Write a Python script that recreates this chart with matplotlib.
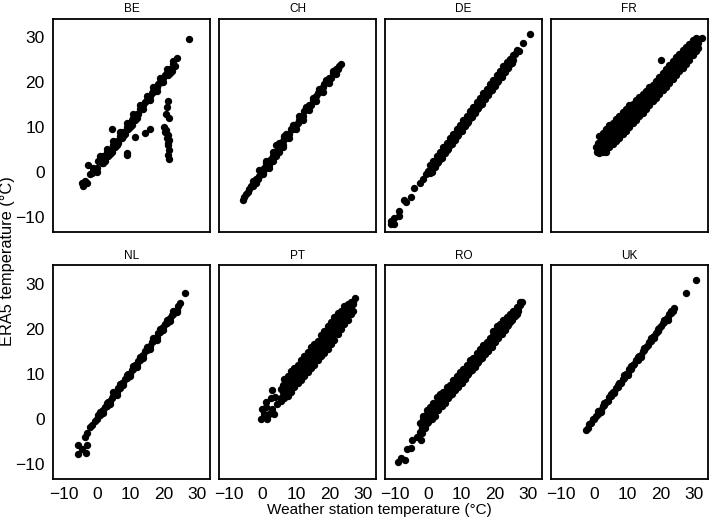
import matplotlib
matplotlib.use('Agg')
import matplotlib.pyplot as plt


# Panels, in the order they appear (top row then bottom row)
countries = ['BE', 'CH', 'DE', 'FR', 'NL', 'PT', 'RO', 'UK']
tick_values = [-10, 0, 10, 20, 30]

# (weather station temperature, ERA5 temperature) pairs
BE_points = [(-4.5, -2.5), (-4, -3), (-3.5, -2), (-3, -2.5), (-2.5, 1.5),
             (-2, -0.5), (-1.5, -0.2), (-1, 0.3), (0, 0.8), (0.5, 2.5),
             (1, 3), (1.5, 2), (2, 3.5), (2.5, 2.5), (3, 4.5), (3.5, 3.5),
             (4, 5), (4.5, 4.5), (5, 6), (5.5, 5.5), (6, 7), (6.5, 6.5),
             (7, 8), (7.5, 7.5), (8, 9), (8.5, 8.5), (9, 10), (9.5, 9.5),
             (10, 11), (10.5, 11.5), (10.5, 10.5), (11, 12), (11.5, 11.5),
             (12, 13), (12.5, 12.8), (13, 14), (13.5, 14), (14, 15),
             (14.5, 15.5), (15, 16), (15.5, 16), (16, 17), (16.5, 17.5),
             (17, 18), (17.5, 18), (18, 19), (18.5, 19.5), (19, 20),
             (19.5, 20), (20, 21), (20.5, 21.5), (21, 22), (21.5, 21.5),
             (22, 23), (22.5, 22.5), (23, 24), (23.5, 23.5), (24, 25.3),
             (-1, 1), (1, 3.5), (3, 5.2), (5, 6.8), (7, 8.8), (9, 10.8),
             (11, 12.8), (13, 14.8), (15, 16.8), (17, 18.8), (19, 20.8),
             (21, 22.8), (23, 24.6),
             (0, 0), (2, 2), (4, 4), (6, 6), (8, 8), (10, 10), (12, 12),
             (14, 14), (16, 16), (18, 18), (20, 20), (22, 22),
             (4.5, 9.5), (9, 4.3), (9, 3.7), (11.5, 7.7), (14.5, 8.6),
             (16, 9.6), (27.7, 29.5),
             (21.5, 15.8), (21.2, 14.5), (20.8, 13), (21.7, 11.9), (20.3, 10),
             (20.8, 9.3), (21.3, 8.2), (21.7, 7.1), (21.3, 6), (21.7, 4.9),
             (21.3, 3.8), (21.8, 2.8), (20.5, 9), (21, 7.5), (21.5, 6.5)]

CH_points = [(-6, -6.3), (-5.5, -5.5), (-5, -4.8), (-4.5, -4.5), (-4, -3.8),
             (-3.5, -3.2), (-3, -3), (-2.5, -2.2), (-2, -1.5), (-1.5, -1.5),
             (-1, -0.8), (-0.5, 0), (0, 0.3), (0, -0.5), (0.5, 1), (1, 1),
             (1, 2.5), (1.5, 1.5), (2, 2.5), (2, 1.5), (2.5, 3), (3, 3.5),
             (3, 2.5), (3.5, 4), (4, 4.5), (4, 6), (4.5, 5), (5, 5.5),
             (5, 4.5), (5.5, 6), (6, 7), (6, 6), (6.5, 7.5), (6.5, 8),
             (7, 7.5), (7.5, 8.5), (8, 8.5), (8.5, 9.5), (9, 9.5),
             (9.5, 10.5), (10, 10.5), (10.5, 11), (11, 11.5), (11.5, 12.5),
             (12, 12.5), (12.5, 13.5), (13, 14), (13.5, 14), (14, 15),
             (14.5, 15), (15, 16), (15.5, 16), (16, 17), (16.5, 17.5),
             (17, 18), (17.5, 18), (18, 19), (18.5, 19.5), (19, 20),
             (19.5, 20.5), (20, 21), (20.5, 21), (21, 22), (21.5, 22),
             (22, 23), (22.5, 23), (23, 23.5), (23.5, 24),
             (-3, -2), (-1, 0.5), (1, 2), (3, 4.5), (5, 6.5), (7, 8.5),
             (9, 10.5), (11, 12.5), (13, 14.5), (15, 16.5), (17, 18.5),
             (19, 20.5), (21, 22.5),
             (-2, -2.5), (0, -0.3), (2, 1), (4, 3.5), (6, 5.5), (8, 7.5),
             (10, 9.5), (12, 11.5), (14, 13.8), (16, 15.8), (18, 17.8),
             (20, 19.8), (22, 21.8)]

DE_points = [(-11.3, -11.6), (-11.3, -10.8), (-10.5, -10.3), (-10.3, -11.5),
             (-8.8, -8.6), (-8.8, -9.8), (-7.3, -6.1), (-6.8, -6.6),
             (-5.3, -5.6), (-4.3, -3.6), (-2.5, -2.4), (-1.5, -1.5),
             (-0.8, -0.4), (0, 0.2), (0.5, -0.3), (1, 1.2), (1.5, 0.8),
             (2, 2.3), (2.5, 2), (3, 3.3), (3.5, 3), (4, 4.4), (4.5, 4),
             (5, 5.3), (5.5, 5), (6, 6.4), (6.5, 6), (7, 7.3), (7.5, 7),
             (8, 8.4), (8.5, 8), (9, 9.3), (9.5, 9.2), (10, 10.4), (10.5, 10),
             (11, 11.3), (11.5, 11), (12, 12.4), (12.5, 12), (13, 13.3),
             (13.5, 13.2), (14, 14.4), (14.5, 14), (15, 15.3), (15.5, 15),
             (16, 16.4), (16.5, 16), (17, 17.3), (17.5, 17.2), (18, 18.4),
             (18.5, 18), (19, 19.3), (19.5, 19.2), (20, 20.4), (20.5, 20),
             (21, 21.3), (21.5, 21.2), (22, 22.4), (22.5, 22), (23, 23.3),
             (23.5, 23.2), (24, 24.3), (24.5, 24), (25, 25.2), (25.5, 25),
             (26, 26.2), (26.7, 27.1), (27.2, 26.8), (28.4, 28.7),
             (30.4, 30.7),
             (1, 0), (2, 1.2), (3, 2.2), (4, 3.2), (5, 4.2), (6, 5.2), (7, 6.2),
             (8, 7.2), (9, 8.2), (10, 9.2), (11, 10.2), (12, 11.2),
             (13, 12.2), (14, 13.2), (15, 14.2), (16, 15.2), (17, 16.2),
             (18, 17.2), (19, 18.2), (20, 19.2), (21, 20.2), (22, 21.2),
             (23, 22.2), (24, 23.2), (25, 24.2),
             (0.5, 1.5), (1.5, 2.5), (2.5, 3.5), (3.5, 4.5), (4.5, 5.5),
             (5.5, 6.5), (6.5, 7.5), (7.5, 8.5), (8.5, 9.5), (9.5, 10.5),
             (10.5, 11.5), (11.5, 12.5), (12.5, 13.5), (13.5, 14.5),
             (14.5, 15.5), (15.5, 16.5), (16.5, 17.5), (17.5, 18.5),
             (18.5, 19.5), (19.5, 20.5), (20.5, 21.5), (21.5, 22.5),
             (22.5, 23.5), (23.5, 24.5), (24.5, 25.2), (25.5, 26)]

FR_points = [(1.5, 8), (2.5, 8.6), (3.5, 9.6), (4.5, 10.5), (5.5, 11),
             (6.5, 11.8), (7.5, 12.5), (8.5, 13.3), (9.5, 14), (10.5, 14.8),
             (11.5, 15.2), (12.5, 16), (13.5, 16.7), (14.5, 17.4), (15.5, 18),
             (16.5, 18.8), (17.5, 19.4), (18.5, 20.3), (19.5, 21.2),
             (20.5, 22), (21.5, 23), (22.5, 23.8), (23.5, 24.7), (24.5, 25.5),
             (25.5, 26.3), (26.5, 27), (27.5, 27.8), (28.5, 28.5),
             (29.5, 29.3), (30.5, 29.8), (31.5, 29.6), (32.3, 29.8),
             (0.8, 4.5), (1.5, 4.2), (2.5, 4.5), (3.5, 4.5), (4.5, 5.6),
             (5.5, 6.2), (6.5, 6.9), (7.5, 7.6), (8.5, 8.4), (9.5, 9.2),
             (10.5, 10), (11.5, 10.8), (12.5, 11.6), (13.5, 12.4),
             (14.5, 13.1), (15.5, 14), (16.5, 14.8), (17.5, 15.7),
             (18.5, 16.5), (19.5, 17.3), (20.5, 18.2), (21.5, 19),
             (22.5, 19.8), (23.5, 20.7), (24.5, 21.5), (25.5, 22.4),
             (26.5, 23.2), (27.5, 24.1), (28.5, 25), (29.5, 26), (30.5, 26.8),
             (31, 27.5),
             (0.5, 5.5), (1, 6.5), (1.5, 5.5), (2, 6.8), (3, 6.5), (4, 7.5),
             (5, 8.3), (6, 9), (7, 9.8), (8, 10.6), (9, 11.4), (10, 12.2),
             (11, 13), (12, 13.8), (13, 14.5), (14, 15.3), (15, 16),
             (16, 16.8), (17, 17.7), (18, 18.5), (19, 19.3), (20, 20.1),
             (21, 21), (22, 21.8), (23, 22.6), (24, 23.4), (25, 24.2),
             (26, 25.1), (27, 26), (28, 26.8), (29, 27.6), (30, 28.2),
             (31, 28.7),
             (2, 7.5), (3, 8.2), (4, 9), (5, 9.6), (6, 10.4), (7, 11.2),
             (8, 12), (9, 12.7), (10, 13.5), (11, 14.2), (12, 15), (13, 15.6),
             (14, 16.4), (15, 17.1), (16, 17.8), (17, 18.6), (18, 19.4),
             (19, 20.2), (20, 21), (21, 22), (22, 22.8), (23, 23.6),
             (24, 24.4), (25, 25.2), (26, 26), (27, 26.8), (28, 27.6),
             (29, 28.3), (30, 29), (31, 29.3),
             (1, 5), (2, 5.5), (3, 5.8), (4, 6.4), (5, 7), (6, 7.8), (7, 8.6),
             (8, 9.4), (9, 10.2), (10, 11), (11, 11.8), (12, 12.6),
             (13, 13.4), (14, 14.2), (15, 15), (16, 15.8), (17, 16.6),
             (18, 17.4), (19, 18.2), (20, 19), (21, 19.9), (22, 20.7),
             (23, 21.5), (24, 22.3), (25, 23.2), (26, 24), (27, 24.9),
             (28, 25.8), (29, 26.7), (30, 27.4),
             (20.1, 25)]

NL_points = [(-5.5, -5.9), (-3, -5.9), (-5.5, -7.8), (-3.2, -7.6),
             (-4.3, -6.8), (-3.5, -4), (-3, -3.3), (-2, -1.9), (-1.3, -1.5),
             (-0.5, -0.5), (0, 0), (0.5, 0.8), (1, 0.9), (1.5, 1.6), (2, 1.8),
             (2.5, 2.6), (3, 2.9), (3.5, 3.7), (4, 3.9), (4.5, 4.6), (5, 5),
             (5.5, 5.7), (6, 5.9), (6.5, 6.8), (7, 6.9), (7.5, 7.8), (8, 8),
             (8.5, 8.7), (9, 9), (9.5, 9.8), (10, 10), (10.5, 10.8),
             (11, 11.1), (11.5, 11.8), (12, 12.1), (12.5, 12.8), (13, 13.1),
             (13.5, 13.9), (14, 14.1), (14.5, 14.9), (15, 15.2), (15.5, 15.9),
             (16, 16.2), (16.5, 17), (17, 17.2), (17.5, 18), (18, 18.2),
             (18.5, 19), (19, 19.3), (19.5, 20), (20, 20.3), (20.5, 21),
             (21, 21.3), (21.5, 22), (22, 22.3), (22.5, 23), (23, 23.2),
             (23.5, 24), (24, 24.2), (24.5, 25), (25, 25.7), (26.5, 28),
             (1, 1.5), (3, 3.5), (5, 5.8), (7, 7.6), (9, 9.6), (11, 11.7),
             (13, 13.7), (15, 15.8), (17, 17.8), (19, 19.9), (21, 21.8),
             (23, 23.8),
             (2, 1.2), (4, 3.2), (6, 5.3), (8, 7.4), (10, 9.4), (12, 11.4),
             (14, 13.4), (16, 15.5), (18, 17.5), (20, 19.6), (22, 21.6),
             (24, 23.6)]

PT_points = [(-0.6, 0), (1.4, 0), (-0.1, 2.2), (1.9, 1.1), (3.4, 1.1),
             (0.9, 3.7), (2.4, 4.6), (2.9, 6.3), (4.4, 3.3), (5.4, 4.5),
             (2.9, 2.2), (0.3, 1), (1, 2.5), (3.8, 4.8),
             (5.5, 6.5), (6.5, 8.7), (7.5, 9.5), (8.5, 10.5), (9.5, 11.3),
             (10.5, 12), (11.5, 13), (12.5, 14), (13.5, 14.8), (14.5, 15.8),
             (15.5, 16.5), (16.5, 17.3), (17.5, 18.5), (18.5, 19.5),
             (19.5, 20.5), (20.5, 21.5), (21.5, 22.5), (22.5, 23.5),
             (23.5, 24), (24.5, 25), (25.5, 25.5), (26.5, 25.8), (27.7, 26.8),
             (5.5, 4), (6.5, 4.5), (7.5, 5), (8.5, 6), (9.5, 7), (10.5, 7.8),
             (11.5, 8.5), (12.5, 9.5), (13.5, 10.3), (14.5, 11.2), (15.5, 12),
             (16.5, 13), (17.5, 13.8), (18.5, 14.5), (19.5, 15.5),
             (20.5, 16.5), (21.5, 17.5), (22.5, 18.8), (23.5, 20), (24.5, 21),
             (25.5, 22), (26.5, 23.2), (27, 24),
             (6, 6), (7, 7), (8, 8), (9, 9), (10, 10), (11, 10.5), (12, 11.5),
             (13, 12.5), (14, 13.5), (15, 14.2), (16, 15.2), (17, 16),
             (18, 17), (19, 18), (20, 19), (21, 20), (22, 21), (23, 22),
             (24, 22.8), (25, 23.8), (26, 24.5), (27, 25.5),
             (6, 7.5), (7, 8.2), (8, 9.2), (9, 10), (10, 10.9), (11, 11.7),
             (12, 12.8), (13, 13.5), (14, 14.5), (15, 15.2), (16, 16.2),
             (17, 17), (18, 18), (19, 19), (20, 20), (21, 21), (22, 22),
             (23, 22.8), (24, 23.8), (25, 24.6), (26, 25.2), (27, 26),
             (6, 5), (7, 5.8), (8, 6.8), (9, 7.8), (10, 8.7), (11, 9.5),
             (12, 10.3), (13, 11.2), (14, 12), (15, 13), (16, 13.8),
             (17, 14.8), (18, 15.6), (19, 16.5), (20, 17.5), (21, 18.5),
             (22, 19.5), (23, 20.8), (24, 21.8), (25, 22.8), (26, 23.8)]

RO_points = [(-9.3, -9.7), (-8.3, -8.8), (-7.1, -9.3), (-6.5, -6.7),
             (-5.3, -6.5), (-4.8, -4.8), (-3.3, -4.1), (-2.3, -4.8),
             (-2.5, -1), (-1.5, 0.5), (-0.5, 2), (0.5, 2.5), (1.5, 3.5),
             (2.5, 4.8), (3.5, 5.5), (4.5, 6), (5.5, 7), (6.5, 7.5),
             (7.5, 8.5), (8.5, 9.5), (9.5, 10.3), (10.5, 11), (11.5, 12),
             (12.5, 13), (13.5, 13.5), (14.5, 14.5), (15.5, 15.5),
             (16.5, 16.3), (17.5, 17), (18.5, 18), (19.5, 19.5), (20.5, 20.5),
             (21.5, 21), (22.5, 21.8), (23.5, 22.5), (24.5, 23.2), (25.5, 24),
             (26.5, 24.8), (27.5, 25.8),
             (-3, -4), (-2, -3.2), (-1, -2), (0, -0.8), (1, 0), (2, 0.5),
             (3, 1.8), (4, 2.8), (5, 3.5), (6, 4.5), (7, 5.5), (8, 6.3),
             (9, 7), (10, 8), (11, 8.8), (12, 9.8), (13, 10.8), (14, 11.5),
             (15, 12.5), (16, 13.5), (17, 14.3), (18, 15), (19, 15.8),
             (20, 17), (21, 18), (22, 18.8), (23, 19.6), (24, 20.8),
             (25, 21.8), (26, 22.8), (27, 24),
             (-2, -2), (-1, -0.8), (0, 0), (1, 1.5), (2, 2.2), (3, 3), (4, 4),
             (5, 4.8), (6, 5.8), (7, 6.6), (8, 7.5), (9, 8.2), (10, 9.2),
             (11, 10), (12, 11), (13, 12), (14, 12.8), (15, 13.8), (16, 14.6),
             (17, 15.5), (18, 16.5), (19, 17.3), (20, 18.2), (21, 19.3),
             (22, 20.2), (23, 21), (24, 22), (25, 22.8), (26, 23.7),
             (27, 24.5), (28, 25.8),
             (-1.5, -0.2), (-0.5, 1), (0.5, 1.5), (1.5, 2.5), (2.5, 3.5),
             (3.5, 4.5), (4.5, 5.2), (5.5, 6.2), (6.5, 7), (7.5, 7.8),
             (8.5, 8.8), (9.5, 9.6), (10.5, 10.4), (11.5, 11.3), (12.5, 12.3),
             (13.5, 13), (14.5, 13.8), (15.5, 14.7), (16.5, 15.6),
             (17.5, 16.5), (18.5, 17.4), (19.5, 18.6), (20.5, 19.6),
             (21.5, 20.4), (22.5, 21.2), (23.5, 22), (24.5, 22.8),
             (25.5, 23.6), (26.5, 24.4), (27.5, 25.2),
             (-2.5, -3), (-1.5, -2), (-0.5, -1), (0.5, 0.2), (1.5, 1),
             (2.5, 1.8), (3.5, 2.8), (4.5, 3.5), (5.5, 4.5), (6.5, 5.3),
             (7.5, 6.2), (8.5, 7), (9.5, 7.8), (10.5, 8.8), (11.5, 9.6),
             (12.5, 10.6), (13.5, 11.5), (14.5, 12.3), (15.5, 13.2),
             (16.5, 14.2), (17.5, 15), (18.5, 15.8), (19.5, 16.8),
             (20.5, 17.8), (21.5, 18.8), (22.5, 19.6), (23.5, 20.5),
             (24.5, 21.5), (25.5, 22.5), (26.5, 23.3)]

UK_points = [(-2.6, -2.6), (-2, -2), (-1.5, -1.3), (-1, -1), (-0.5, -0.2),
             (0, 0), (0.5, 0.6), (1, 1), (1.5, 1.7), (2, 2), (2.5, 2.7),
             (3, 3), (3.5, 3.7), (4, 4), (4.5, 4.7), (5, 5), (5.5, 5.8),
             (6, 6), (6.5, 6.8), (7, 7), (7.5, 7.8), (8, 8), (8.5, 8.9),
             (9, 9.1), (9.5, 9.9), (10, 10.1), (10.5, 11), (11, 11.1),
             (11.5, 12), (12, 12.1), (12.5, 13), (13, 13.1), (13.5, 14),
             (14, 14.2), (14.5, 15), (15, 15.2), (15.5, 16), (16, 16.3),
             (16.5, 17), (17, 17.3), (17.5, 18.1), (18, 18.4), (18.5, 19.1),
             (19, 19.4), (19.5, 20.1), (20, 20.5), (20.5, 21.2), (21, 21.5),
             (21.5, 22.2), (22, 22.5), (22.5, 23.2), (23, 23.5), (23.5, 24),
             (23.9, 24.5),
             (1, 1.6), (3, 3.5), (5, 5.5), (7, 7.5), (9, 9.6), (11, 11.6),
             (13, 13.6), (15, 15.7), (17, 17.8), (19, 19.8), (21, 21.9),
             (23, 23.9),
             (2, 1.5), (6, 5.6), (10, 9.6), (14, 13.7), (18, 17.8), (22, 22),
             (27.6, 27.9), (30.6, 30.8)]

country_points = {'BE': BE_points, 'CH': CH_points, 'DE': DE_points,
                  'FR': FR_points, 'NL': NL_points, 'PT': PT_points,
                  'RO': RO_points, 'UK': UK_points}

plt.rcParams['font.family'] = ['Liberation Sans', 'DejaVu Sans']

fig, axes = plt.subplots(2, 4, sharex=True, sharey=True,
                         figsize=(7.09, 5.2), dpi=100)
fig.subplots_adjust(left=0.075, right=0.998, top=0.9635, bottom=0.079,
                    wspace=0.057, hspace=0.155)

for ax, country in zip(axes.flat, countries):
    station, era5 = zip(*country_points[country])
    ax.scatter(station, era5, s=28, color='black', linewidths=0)
    ax.set_title(country, fontsize=8.5, pad=5)
    for spine in ax.spines.values():
        spine.set_linewidth(1.3)
    ax.tick_params(length=0, labelsize=12.5, pad=6)

axes[0, 0].set_xlim(-13.1, 34)
axes[0, 0].set_ylim(-13.4, 34)
axes[0, 0].set_xticks(tick_values)
axes[0, 0].set_yticks(tick_values)

fig.text(0.535, 0.019, 'Weather station temperature (°C)', fontsize=11,
         ha='center', va='center')
fig.text(0.011, 0.497, 'ERA5 temperature (°C)', fontsize=11.8,
         rotation=90, ha='center', va='center')

plt.savefig('out.png', dpi=100)
